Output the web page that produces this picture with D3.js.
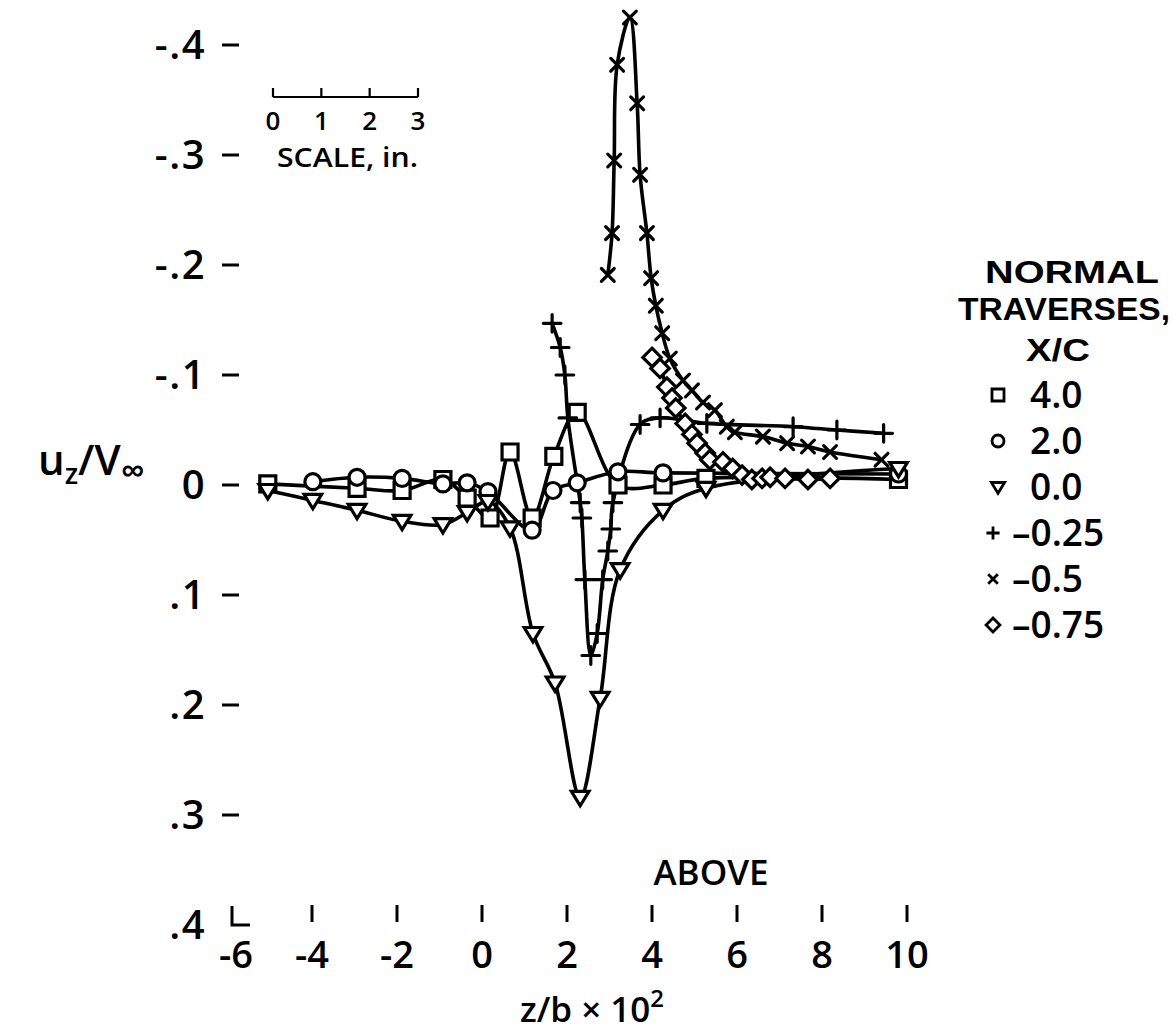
<!DOCTYPE html>
<html>
<head>
<meta charset="utf-8">
<script src="https://cdn.jsdelivr.net/npm/d3@7"></script>
<style>
  body { margin: 0; background: #fff; }
  svg { display: block; }
  text { font-family: "Open Sans", "DejaVu Sans", sans-serif; font-weight: 600; fill: #000; }
  text.legend-head { font-family: "Liberation Sans", Arial, sans-serif; font-weight: 700; }
</style>
</head>
<body>
<svg id="chart" width="1174" height="1036"></svg>
<script>
// Axis ticks and labels
const xTicks = [-6, -4, -2, 0, 2, 4, 6, 8, 10];
const xTickLabels = ["-6", "-4", "-2", "0", "2", "4", "6", "8", "10"];
const yTicks = [-0.4, -0.3, -0.2, -0.1, 0, 0.1, 0.2, 0.3, 0.4];
const yTickLabels = ["-.4", "-.3", "-.2", "-.1", "0", ".1", ".2", ".3", ".4"];
const scaleBarTicks = [0, 1, 2, 3];

// Normal traverses, x/c stations
const stationLabels = ["4.0", "2.0", "0.0", "-0.25", "-0.5", "-0.75"];
const stationSymbols = ["square", "circle", "triangle", "plus", "cross", "diamond"];

// [z/b x 10^2, u_z/V_inf]
const traverse40 = [
  [-5.04, -0.001], [-2.94, 0.003], [-1.88, 0.005], [-0.92, -0.005], [-0.35, 0.012],
  [0.19, 0.030], [0.66, -0.030], [1.18, 0.030], [1.69, -0.026], [2.24, -0.066],
  [3.20, 0.000], [4.26, 0.000], [5.27, -0.006], [9.80, -0.005]
];
const traverse20 = [
  [-3.98, -0.003], [-2.94, -0.007], [-1.88, -0.006], [-0.92, -0.001], [-0.35, -0.002],
  [0.14, 0.006], [1.18, 0.041], [1.67, 0.005], [2.24, -0.002], [3.20, -0.012],
  [4.26, -0.011], [9.80, -0.010]
];
const traverse00 = [
  [-5.04, 0.005], [-3.98, 0.014], [-2.94, 0.023], [-1.88, 0.033], [-0.92, 0.036],
  [-0.35, 0.025], [0.14, 0.015], [0.66, 0.039], [1.20, 0.135], [1.72, 0.180],
  [2.31, 0.284], [2.78, 0.194], [3.25, 0.077], [4.26, 0.023], [5.27, 0.003], [9.80, -0.015]
];
const traverseM025 = [
  [1.65, -0.147], [1.84, -0.125], [1.95, -0.100], [2.02, -0.061], [2.31, 0.016],
  [2.35, 0.030], [2.42, 0.086], [2.56, 0.155], [2.71, 0.135], [2.84, 0.086],
  [2.96, 0.060], [3.03, 0.040], [3.08, 0.016], [3.72, -0.055], [4.19, -0.061],
  [5.29, -0.056], [7.32, -0.053], [8.35, -0.050], [9.45, -0.047]
];
const traverseM05 = [
  [2.96, -0.191], [3.06, -0.229], [3.11, -0.295], [3.18, -0.382], [3.48, -0.425],
  [3.65, -0.347], [3.72, -0.282], [3.88, -0.229], [3.98, -0.188], [4.09, -0.163],
  [4.24, -0.138], [4.42, -0.115], [4.73, -0.095], [4.94, -0.086], [5.20, -0.075],
  [5.48, -0.068], [5.76, -0.053], [5.95, -0.048], [6.61, -0.044], [7.18, -0.038],
  [7.67, -0.035], [8.19, -0.030], [9.40, -0.023]
];
const traverseM075 = [
  [4.00, -0.116], [4.19, -0.106], [4.35, -0.089], [4.47, -0.079], [4.56, -0.070],
  [4.78, -0.056], [4.94, -0.046], [5.06, -0.038], [5.25, -0.029], [5.36, -0.023],
  [5.67, -0.021], [5.90, -0.015], [6.12, -0.009], [6.35, -0.005], [6.59, -0.006],
  [6.78, -0.007], [7.13, -0.006], [7.67, -0.005], [8.19, -0.006]
];
const traverses = [traverse40, traverse20, traverse00, traverseM025, traverseM05, traverseM075];

const svg = d3.select("#chart");
const x = d3.scaleLinear().domain([-6, 10]).range([227, 907]);
const y = d3.scaleLinear().domain([-0.4, 0.4]).range([45, 925]);
const ink = "#000";

// Open marker paths centred on the origin
function markerPath(kind, s) {
  const p = d3.path();
  if (kind === "square") {
    p.rect(-s, -s, 2 * s, 2 * s);
  } else if (kind === "circle") {
    p.moveTo(s, 0); p.arc(0, 0, s, 0, 2 * Math.PI);
  } else if (kind === "triangle") {
    p.moveTo(-s * 1.1, -s * 0.75); p.lineTo(s * 1.1, -s * 0.75); p.lineTo(0, s * 1.05); p.closePath();
  } else if (kind === "plus") {
    p.moveTo(-s * 1.1, 0); p.lineTo(s * 1.1, 0); p.moveTo(0, -s * 1.1); p.lineTo(0, s * 1.1);
  } else if (kind === "cross") {
    p.moveTo(-s * 0.8, -s * 0.8); p.lineTo(s * 0.8, s * 0.8); p.moveTo(s * 0.8, -s * 0.8); p.lineTo(-s * 0.8, s * 0.8);
  } else if (kind === "diamond") {
    p.moveTo(0, -s * 1.15); p.lineTo(s * 1.15, 0); p.lineTo(0, s * 1.15); p.lineTo(-s * 1.15, 0); p.closePath();
  }
  return p.toString();
}
const filled = k => (k === "plus" || k === "cross") ? "none" : "#fff";

// Curves
const line = d3.line()
  .x(d => x(d[0]))
  .y(d => y(d[1]))
  .curve(d3.curveCatmullRom.alpha(0.5));

svg.append("g").selectAll("path")
  .data(traverses)
  .join("path")
  .attr("d", line)
  .attr("fill", "none")
  .attr("stroke", ink)
  .attr("stroke-width", 3.6)
  .attr("stroke-linejoin", "round")
  .attr("stroke-linecap", "round");

// Data symbols
traverses.forEach((pts, i) => {
  const kind = stationSymbols[i];
  svg.append("g").selectAll("path")
    .data(pts)
    .join("path")
    .attr("transform", d => `translate(${x(d[0])},${y(d[1])})`)
    .attr("d", markerPath(kind, 8))
    .attr("fill", filled(kind))
    .attr("stroke", ink)
    .attr("stroke-width", 3.2)
    .attr("stroke-linecap", "round");
});

// Vertical axis: labels with short dashes, corner mark at the origin
const yAxisX = x(-6);
const yAxis = svg.append("g");
yTicks.forEach((v, i) => {
  const yy = y(v);
  yAxis.append("text")
    .attr("x", 206).attr("y", yy + 14)
    .attr("text-anchor", "end")
    .attr("font-size", 40)
    .attr("letter-spacing", 1.5)
    .text(yTickLabels[i]);
  if (i < yTicks.length - 1) {
    yAxis.append("line")
      .attr("x1", yAxisX - 5).attr("x2", yAxisX + 12)
      .attr("y1", yy).attr("y2", yy)
      .attr("stroke", ink).attr("stroke-width", 3);
  }
});
yAxis.append("path")
  .attr("d", `M${yAxisX + 5},${y(0.4) - 19}V${y(0.4)}H${yAxisX + 23}`)
  .attr("fill", "none").attr("stroke", ink).attr("stroke-width", 3);

// Horizontal axis: floating tick marks and labels
const xAxis = svg.append("g");
xTicks.forEach((v, i) => {
  if (i > 0) {
    xAxis.append("line")
      .attr("x1", x(v)).attr("x2", x(v))
      .attr("y1", 905).attr("y2", 922)
      .attr("stroke", ink).attr("stroke-width", 3);
  }
  xAxis.append("text")
    .attr("x", x(v) + (i === 0 ? 9 : 0)).attr("y", 968)
    .attr("text-anchor", "middle")
    .attr("font-size", 38)
    .text(xTickLabels[i]);
});

// Axis titles
svg.append("text")
  .attr("x", 711).attr("y", 885)
  .attr("text-anchor", "middle")
  .attr("font-size", 35)
  .text("ABOVE");

const xTitle = svg.append("text")
  .attr("x", 592).attr("y", 1022)
  .attr("text-anchor", "middle")
  .attr("font-size", 35);
xTitle.append("tspan").text("z/b × 10");
xTitle.append("tspan").attr("dy", -15).attr("font-size", 24).text("2");

const yTitle = svg.append("text")
  .attr("x", 38).attr("y", 475)
  .attr("font-size", 42);
yTitle.append("tspan").text("u");
yTitle.append("tspan").attr("dy", 9).attr("font-size", 28).text("z");
yTitle.append("tspan").attr("dy", -9).text("/V");
yTitle.append("tspan").attr("dy", 8).attr("font-size", 34).text("∞");

// Scale bar
const sb = d3.scaleLinear().domain([0, 3]).range([273, 418]);
const scaleG = svg.append("g");
scaleG.append("line")
  .attr("x1", sb(0)).attr("x2", sb(3)).attr("y1", 97).attr("y2", 97)
  .attr("stroke", ink).attr("stroke-width", 2.2);
scaleG.selectAll("line.tk")
  .data(scaleBarTicks)
  .join("line")
  .attr("class", "tk")
  .attr("x1", d => sb(d)).attr("x2", d => sb(d))
  .attr("y1", 88).attr("y2", 97)
  .attr("stroke", ink).attr("stroke-width", 2.2);
scaleG.selectAll("text.tl")
  .data(scaleBarTicks)
  .join("text")
  .attr("class", "tl")
  .attr("x", d => sb(d)).attr("y", 130)
  .attr("text-anchor", "middle")
  .attr("font-size", 26)
  .text(d => d);
scaleG.append("text")
  .attr("x", 277).attr("y", 167)
  .attr("font-size", 27)
  .attr("textLength", 141)
  .attr("lengthAdjust", "spacingAndGlyphs")
  .text("SCALE, in.");

// Legend
const legend = svg.append("g");
legend.append("text").attr("class", "legend-head").attr("x", 1072).attr("y", 283).attr("text-anchor", "middle")
  .attr("font-size", 31).attr("textLength", 174).attr("lengthAdjust", "spacingAndGlyphs").text("NORMAL");
legend.append("text").attr("class", "legend-head").attr("x", 1064).attr("y", 320).attr("text-anchor", "middle")
  .attr("font-size", 31).attr("textLength", 212).attr("lengthAdjust", "spacingAndGlyphs").text("TRAVERSES,");
legend.append("text").attr("class", "legend-head").attr("x", 1058).attr("y", 361).attr("text-anchor", "middle")
  .attr("font-size", 31).attr("textLength", 64).attr("lengthAdjust", "spacingAndGlyphs").text("X/C");
stationLabels.forEach((lab, i) => {
  const cy = 395 + i * 46;
  const neg = lab.startsWith("-");
  legend.append("path")
    .attr("transform", `translate(${neg ? 993 : 998},${cy})`)
    .attr("d", markerPath(stationSymbols[i], 6))
    .attr("fill", filled(stationSymbols[i]))
    .attr("stroke", ink).attr("stroke-width", 2.8);
  legend.append("text")
    .attr("x", neg ? 1012 : 1030).attr("y", cy + 13)
    .attr("font-size", 37)
    .text(neg ? "–" + lab.slice(1) : lab);
});
</script>
</body>
</html>
